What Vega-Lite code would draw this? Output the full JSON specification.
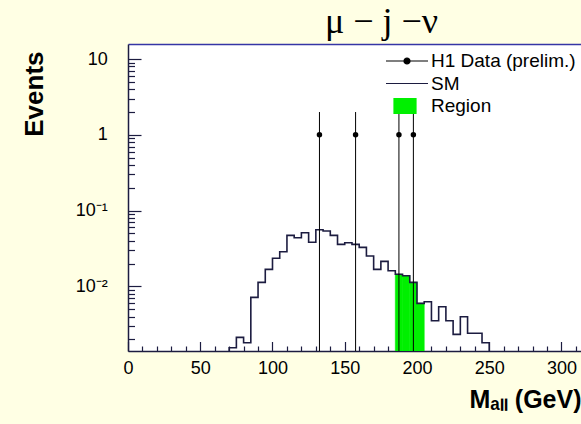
{
  "$schema": "https://vega.github.io/schema/vega-lite/v6.json",
  "width": 453,
  "height": 307,
  "autosize": {"type": "none"},
  "padding": {"left": 128, "top": 44, "right": 0, "bottom": 73},
  "background": "#ffffe4",
  "config": {
    "view": {"stroke": null, "fill": "white"},
    "font": "Liberation Sans",
    "axis": {"grid": false}
  },
  "title": {
    "text": "μ − j −ν",
    "font": "Liberation Serif",
    "fontSize": 36,
    "fontWeight": "normal",
    "color": "black",
    "anchor": "middle",
    "frame": "group",
    "baseline": "alphabetic",
    "offset": -25,
    "dx": 27
  },
  "datasets": {
    "sm": [
      {"lo": 65, "hi": 70, "n": 0.0001},
      {"lo": 70, "hi": 75, "n": 0.00155},
      {"lo": 75, "hi": 80, "n": 0.00213},
      {"lo": 80, "hi": 85, "n": 0.00181},
      {"lo": 85, "hi": 90, "n": 0.00718},
      {"lo": 90, "hi": 95, "n": 0.0113},
      {"lo": 95, "hi": 100, "n": 0.0168},
      {"lo": 100, "hi": 105, "n": 0.0235},
      {"lo": 105, "hi": 110, "n": 0.0287},
      {"lo": 110, "hi": 115, "n": 0.0472},
      {"lo": 115, "hi": 120, "n": 0.0439},
      {"lo": 120, "hi": 125, "n": 0.0511},
      {"lo": 125, "hi": 130, "n": 0.0382},
      {"lo": 130, "hi": 135, "n": 0.056},
      {"lo": 135, "hi": 140, "n": 0.0538},
      {"lo": 140, "hi": 145, "n": 0.0472},
      {"lo": 145, "hi": 150, "n": 0.0359},
      {"lo": 150, "hi": 155, "n": 0.0377},
      {"lo": 155, "hi": 160, "n": 0.0359},
      {"lo": 160, "hi": 165, "n": 0.0328},
      {"lo": 165, "hi": 170, "n": 0.0252},
      {"lo": 170, "hi": 175, "n": 0.0168},
      {"lo": 175, "hi": 180, "n": 0.0214},
      {"lo": 180, "hi": 185, "n": 0.0161},
      {"lo": 185, "hi": 190, "n": 0.01445},
      {"lo": 190, "hi": 195, "n": 0.01384},
      {"lo": 195, "hi": 200, "n": 0.0113},
      {"lo": 200, "hi": 205, "n": 0.00598},
      {"lo": 205, "hi": 210, "n": 0.00628},
      {"lo": 210, "hi": 215, "n": 0.00353},
      {"lo": 215, "hi": 220, "n": 0.0054},
      {"lo": 220, "hi": 225, "n": 0.00353},
      {"lo": 225, "hi": 230, "n": 0.00233},
      {"lo": 230, "hi": 235, "n": 0.00398},
      {"lo": 235, "hi": 240, "n": 0.00241},
      {"lo": 240, "hi": 245, "n": 0.00241},
      {"lo": 245, "hi": 250, "n": 0.00181},
      {"lo": 250, "hi": 255, "n": 0.0001}
    ],
    "h1": [
      {"m": 132.5, "n": 1, "lo": 0.0001, "hi": 2},
      {"m": 157.5, "n": 1, "lo": 0.0001, "hi": 2},
      {"m": 187.5, "n": 1, "lo": 0.0001, "hi": 2},
      {"m": 197.5, "n": 1, "lo": 0.0001, "hi": 2}
    ]
  },
  "resolve": {"axis": {"x": "independent"}},
  "layer": [
    {
      "data": {"name": "sm"},
      "transform": [{"filter": "datum.lo >= 185 && datum.lo < 205"}],
      "mark": {"type": "bar", "clip": true, "stroke": "#00f000", "strokeWidth": 0.6},
      "encoding": {
        "x": {
          "field": "lo", "type": "quantitative",
          "scale": {"domain": [0, 313.5], "nice": false, "zero": false},
          "axis": {"orient": "top", "ticks": false, "labels": false, "title": null, "domainColor": "#3535a5", "domainWidth": 1.5}
        },
        "x2": {"field": "hi"},
        "y": {"field": "n", "type": "quantitative", "scale": {"type": "log", "domain": [0.001406, 15.8], "nice": false}},
        "y2": {"datum": 0.0001},
        "color": {"datum": "Region", "scale": {"domain": ["H1 Data (prelim.)", "SM", "Region"], "range": ["black", "#1c1c40", "#00f000"]}}
      }
    },
    {
      "data": {"name": "sm"},
      "mark": {"type": "line", "interpolate": "step-after", "clip": true, "strokeWidth": 1.6},
      "encoding": {
        "x": {
          "field": "lo", "type": "quantitative",
          "scale": {"domain": [0, 313.5], "nice": false, "zero": false},
          "axis": {
            "orient": "bottom",
            "values": [0, 10, 20, 30, 40, 50, 60, 70, 80, 90, 100, 110, 120, 130, 140, 150, 160, 170, 180, 190, 200, 210, 220, 230, 240, 250, 260, 270, 280, 290, 300, 310],
            "labelExpr": "datum.value % 50 === 0 ? datum.label : ''",
            "tickSize": {"condition": {"test": "datum.value % 50 === 0", "value": -9.5}, "value": -5},
            "tickColor": "#1c1c40", "tickWidth": 1.2,
            "domainColor": "#1c1c40", "domainWidth": 1.5,
            "labelFontSize": 18, "labelColor": "black", "labelPadding": 17.5,
            "labelFlush": false, "labelOverlap": false,
            "title": "Mₐₗₗ (GeV)", "titleFontSize": 25, "titleFontWeight": "bold",
            "titleColor": "black", "titleAnchor": "end", "titlePadding": 6
          }
        },
        "y": {
          "field": "n", "type": "quantitative",
          "scale": {"type": "log", "domain": [0.001406, 15.8], "nice": false},
          "axis": {
            "orient": "left",
            "values": [0.002, 0.003, 0.004, 0.005, 0.006, 0.007, 0.008, 0.009, 0.01, 0.02, 0.03, 0.04, 0.05, 0.06, 0.07, 0.08, 0.09, 0.1, 0.2, 0.3, 0.4, 0.5, 0.6, 0.7, 0.8, 0.9, 1, 2, 3, 4, 5, 6, 7, 8, 9, 10],
            "labelExpr": "datum.value == 10 ? '10' : datum.value == 1 ? '1' : datum.value == 0.1 ? '10⁻¹' : datum.value == 0.01 ? '10⁻²' : ''",
            "tickSize": {"condition": {"test": "datum.value == 10 || datum.value == 1 || datum.value == 0.1 || datum.value == 0.01", "value": -13}, "value": -6.5},
            "tickColor": "#1c1c40", "tickWidth": 1.2,
            "domainColor": "#1c1c40", "domainWidth": 1.5,
            "labelFontSize": 18, "labelColor": "black", "labelPadding": 33.7,
            "labelFlush": false, "labelOverlap": false,
            "title": "Events", "titleFontSize": 26, "titleFontWeight": "bold",
            "titleColor": "black", "titleAnchor": "end", "titlePadding": 28, "titleY": 7
          }
        },
        "color": {
          "datum": "SM",
          "scale": {"domain": ["H1 Data (prelim.)", "SM", "Region"], "range": ["black", "#1c1c40", "#00f000"]},
          "legend": {
            "orient": "none", "legendX": 268, "legendY": 6, "title": null,
            "padding": 0, "symbolSize": 400, "labelFontSize": 19, "labelFont": "Liberation Sans",
            "labelColor": "black", "labelOffset": 13, "rowPadding": 1.5, "labelLimit": 300,
            "encode": {
              "symbols": {
                "update": {
                  "shape": {"signal": "datum.label == 'Region' ? 'M-1.3,-0.75H0.9V0.75H-1.3Z' : datum.label == 'SM' ? 'M-2.1,0H2.1' : 'M-2.1,0H2.1M-0.3,0A0.3,0.3,0,1,1,0.3,0A0.3,0.3,0,1,1,-0.3,0Z'"},
                  "fill": {"signal": "datum.label == 'Region' ? '#00f000' : 'black'"},
                  "stroke": {"signal": "datum.label == 'Region' ? '#00f000' : datum.label == 'SM' ? '#1c1c40' : '#444444'"},
                  "strokeWidth": {"value": 1.2},
                  "opacity": {"value": 1},
                  "fillOpacity": {"value": 1},
                  "strokeOpacity": {"value": 1}
                }
              }
            }
          }
        }
      }
    },
    {
      "data": {"name": "h1"},
      "mark": {"type": "rule", "clip": true, "color": "black", "strokeWidth": 1},
      "encoding": {
        "x": {"field": "m", "type": "quantitative", "scale": {"domain": [0, 313.5], "nice": false, "zero": false}, "axis": null},
        "y": {"field": "lo", "type": "quantitative", "scale": {"type": "log", "domain": [0.001406, 15.8], "nice": false}},
        "y2": {"field": "hi"}
      }
    },
    {
      "data": {"name": "h1"},
      "mark": {"type": "point", "filled": true, "size": 30, "opacity": 1},
      "encoding": {
        "x": {"field": "m", "type": "quantitative", "scale": {"domain": [0, 313.5], "nice": false, "zero": false}, "axis": null},
        "y": {"field": "n", "type": "quantitative", "scale": {"type": "log", "domain": [0.001406, 15.8], "nice": false}},
        "color": {"datum": "H1 Data (prelim.)", "scale": {"domain": ["H1 Data (prelim.)", "SM", "Region"], "range": ["black", "#1c1c40", "#00f000"]}}
      }
    }
  ]
}
